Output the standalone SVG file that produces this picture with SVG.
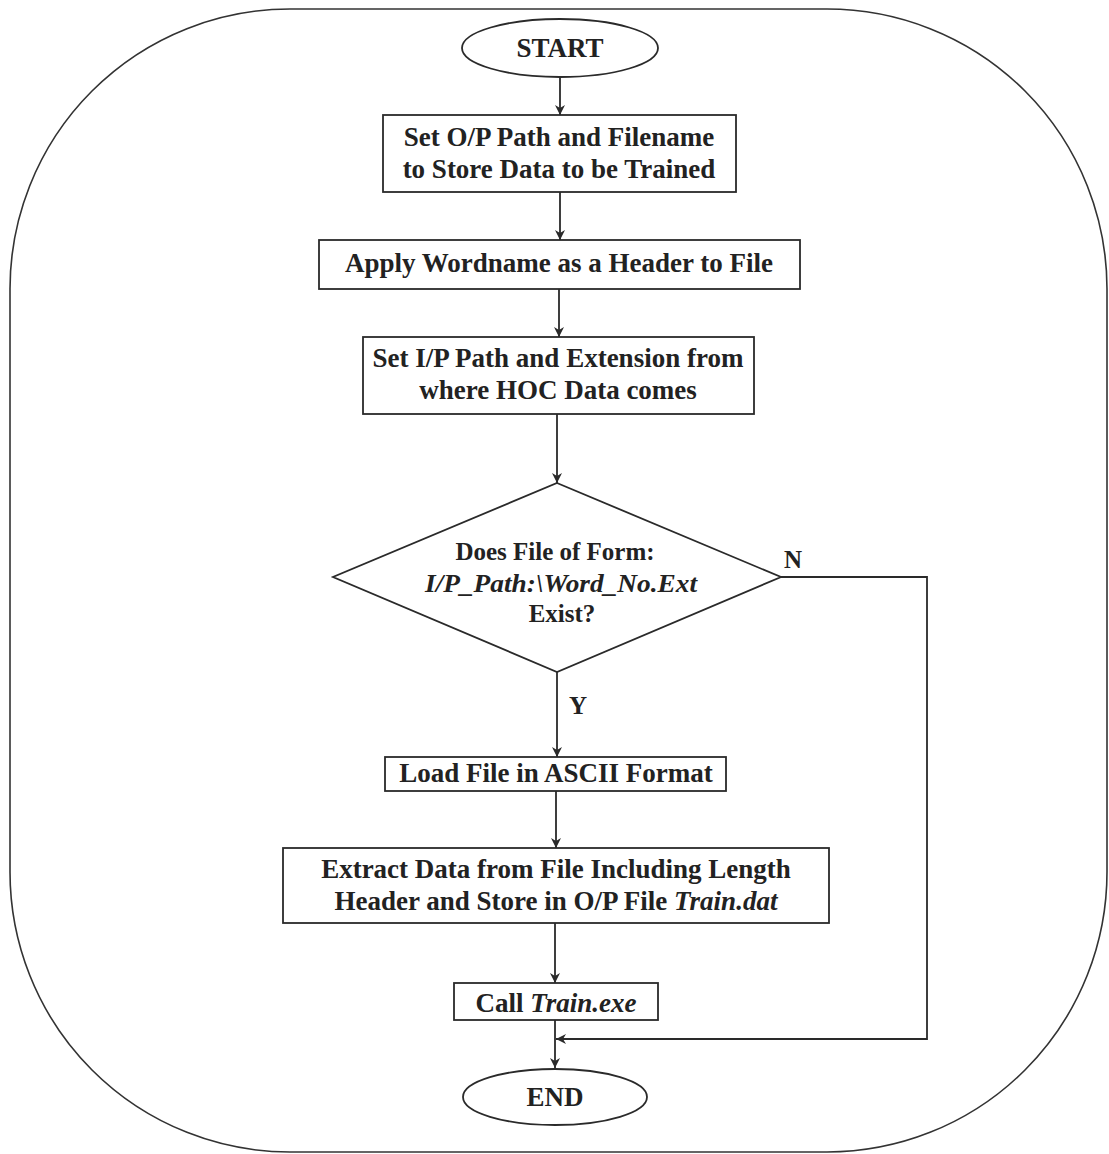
<svg xmlns="http://www.w3.org/2000/svg" width="1109" height="1154" viewBox="0 0 1109 1154">
  <style>
    .shape { fill: #fff; stroke: #2a2a2a; stroke-width: 1.8; }
    .frame { fill: #fff; stroke: #333; stroke-width: 1.6; }
    .wire { fill: none; stroke: #2a2a2a; stroke-width: 1.8; }
    .t { font-family: "Liberation Serif", "Times New Roman", serif; font-weight: bold; font-size: 27px; fill: #222; text-anchor: middle; }
    .d { font-size: 25px; }
    .i { font-style: italic; }
  </style>
  <defs>
    <marker id="arrow" viewBox="0 0 10 10" refX="10" refY="5" markerWidth="10" markerHeight="10" markerUnits="userSpaceOnUse" orient="auto">
      <path d="M0,0 L10,5 L0,10 L3,5 z" fill="#2a2a2a"/>
    </marker>
  </defs>

  <!-- outer rounded frame -->
  <rect class="frame" x="10" y="9" width="1097" height="1143" rx="280" ry="280"/>

  <!-- connectors -->
  <g id="connectors">
    <path class="wire" d="M560,77 V115" marker-end="url(#arrow)"/>
    <path class="wire" d="M560,192 V240" marker-end="url(#arrow)"/>
    <path class="wire" d="M559,289 V337" marker-end="url(#arrow)"/>
    <path class="wire" d="M557,414 V483" marker-end="url(#arrow)"/>
    <path class="wire" d="M557,672 V757" marker-end="url(#arrow)"/>
    <path class="wire" d="M556,791 V848" marker-end="url(#arrow)"/>
    <path class="wire" d="M555,923 V983" marker-end="url(#arrow)"/>
    <path class="wire" d="M555,1020 V1068" marker-end="url(#arrow)"/>
    <path class="wire" d="M781,577 H927 V1039 H556" marker-end="url(#arrow)"/>
    <text class="t d" x="793" y="568">N</text>
    <text class="t d" x="578" y="714">Y</text>
  </g>

  <g id="start">
    <ellipse class="shape" cx="560" cy="48" rx="98" ry="29"/>
    <text class="t" x="560" y="57" font-size="28">START</text>
  </g>

  <g id="set-output">
    <rect class="shape" x="383" y="115" width="353" height="77"/>
    <text class="t" x="559" y="146">Set O/P Path and Filename</text>
    <text class="t" x="559" y="178">to Store Data to be Trained</text>
  </g>

  <g id="apply-header">
    <rect class="shape" x="319" y="240" width="481" height="49"/>
    <text class="t" x="559" y="272">Apply Wordname as a Header to File</text>
  </g>

  <g id="set-input">
    <rect class="shape" x="363" y="337" width="391" height="77"/>
    <text class="t" x="558" y="367">Set I/P Path and Extension from</text>
    <text class="t" x="558" y="399">where HOC Data comes</text>
  </g>

  <g id="file-exists">
    <polygon class="shape" points="557,483 781,577 557,672 333,577"/>
    <text class="t d" x="555" y="560">Does File of Form:</text>
    <text class="t d i" x="561" y="592" textLength="272" lengthAdjust="spacingAndGlyphs">I/P_Path:\Word_No.Ext</text>
    <text class="t d" x="562" y="622">Exist?</text>
  </g>

  <g id="load-file">
    <rect class="shape" x="385" y="757" width="341" height="34"/>
    <text class="t" x="556" y="782">Load File in ASCII Format</text>
  </g>

  <g id="extract-data">
    <rect class="shape" x="283" y="848" width="546" height="75"/>
    <text class="t" x="556" y="878">Extract Data from File Including Length</text>
    <text class="t" x="556" y="910">Header and Store in O/P File <tspan class="i">Train.dat</tspan></text>
  </g>

  <g id="call-train">
    <rect class="shape" x="454" y="983" width="204" height="37"/>
    <text class="t" x="556" y="1012">Call <tspan class="i">Train.exe</tspan></text>
  </g>

  <g id="end">
    <ellipse class="shape" cx="555" cy="1097" rx="92" ry="28"/>
    <text class="t" x="555" y="1106">END</text>
  </g>
</svg>
